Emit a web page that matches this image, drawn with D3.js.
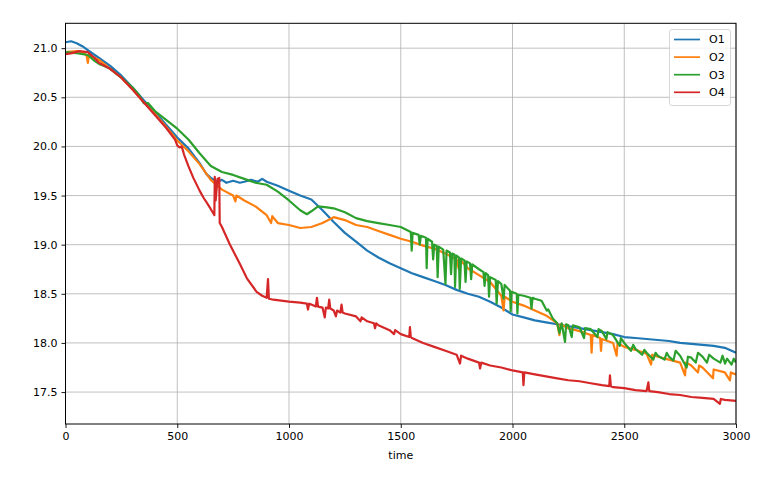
<!DOCTYPE html>
<html>
<head>
<meta charset="utf-8">
<script src="https://cdn.jsdelivr.net/npm/d3@7"></script>
<style>
  html, body { margin: 0; padding: 0; background: #fff; }
  svg { display: block; }
  text { font-family: "DejaVu Sans", sans-serif; fill: #000; }
</style>
</head>
<body>
<svg id="chart" width="774" height="487"></svg>
<script>
// ---------------- data ----------------
const seriesNames = ["O1", "O2", "O3", "O4"];
const seriesColors = ["#1f77b4", "#ff7f0e", "#2ca02c", "#d62728"];
const xTicks = [0, 500, 1000, 1500, 2000, 2500, 3000];
const yTicks = [17.5, 18.0, 18.5, 19.0, 19.5, 20.0, 20.5, 21.0];
const xLabel = "time";

const o1 = [[0,21.06],[25,21.07],[50,21.05],[75,21.02],[100,20.98],[150,20.9],[200,20.82],[250,20.72],[300,20.6],
  [350,20.47],[400,20.35],[450,20.22],[500,20.09],[550,19.98],[600,19.83],[630,19.72],[650,19.68],[680,19.64],
  [700,19.66],[720,19.63],[750,19.65],[780,19.63],[800,19.64],[830,19.66],[860,19.64],[880,19.67],[900,19.64],
  [950,19.6],[1000,19.55],[1050,19.5],[1100,19.46],[1150,19.35],[1200,19.23],[1250,19.12],[1300,19.03],[1350,18.94],
  [1400,18.87],[1450,18.81],[1500,18.76],[1550,18.71],[1600,18.67],[1650,18.63],[1700,18.59],[1750,18.54],[1800,18.5],
  [1850,18.47],[1900,18.42],[1950,18.36],[2000,18.29],[2050,18.26],[2100,18.23],[2150,18.21],[2200,18.19],[2250,18.17],
  [2300,18.15],[2350,18.13],[2400,18.11],[2450,18.09],[2500,18.06],[2550,18.05],[2600,18.04],[2650,18.03],[2700,18.02],
  [2750,18.0],[2800,17.99],[2850,17.98],[2900,17.97],[2950,17.95],[3000,17.9]];

const o2 = [[0,20.96],[50,20.97],[80,20.96],[95,20.92],[100,20.85],[105,20.93],[150,20.88],[200,20.79],[250,20.7],
  [300,20.58],[350,20.45],[400,20.33],[450,20.2],[500,20.06],[550,19.95],[600,19.82],[650,19.66],[700,19.56],
  [750,19.5],[760,19.44],[765,19.5],[800,19.45],[850,19.39],[900,19.3],[920,19.22],[925,19.29],[950,19.22],
  [1000,19.2],[1050,19.17],[1100,19.18],[1150,19.22],[1200,19.28],[1250,19.25],[1300,19.2],[1350,19.18],[1400,19.14],
  [1450,19.1],[1500,19.06],[1550,19.03],[1600,18.99],[1650,18.96],[1700,18.91],[1750,18.85],[1760,18.75],[1765,18.85],
  [1800,18.76],[1850,18.69],[1900,18.62],[1950,18.48],[1960,18.33],[1965,18.47],[2000,18.42],[2050,18.38],[2100,18.33],
  [2150,18.28],[2200,18.2],[2210,18.08],[2215,18.19],[2250,18.15],[2300,18.12],[2350,18.08],[2354,17.9],[2358,18.08],
  [2392,18.05],[2396,17.92],[2400,18.04],[2450,18.0],[2466,17.87],[2470,18.0],[2500,17.96],[2550,17.93],[2600,17.89],
  [2620,17.78],[2625,17.88],[2650,17.86],[2700,17.83],[2750,17.8],[2772,17.67],[2776,17.8],[2800,17.77],[2830,17.7],
  [2835,17.77],[2850,17.75],[2897,17.64],[2900,17.73],[2950,17.7],[2973,17.62],[2977,17.7],[3000,17.68]];

const o3 = [[0,20.96],[50,20.95],[100,20.93],[130,20.87],[150,20.84],[170,20.82],[200,20.79],[250,20.7],[300,20.6],
  [330,20.52],[350,20.44],[370,20.44],[400,20.36],[450,20.27],[500,20.18],[550,20.07],[600,19.93],[650,19.8],
  [700,19.74],[750,19.71],[800,19.67],[850,19.63],[900,19.61],[950,19.54],[1000,19.45],[1050,19.35],[1080,19.31],
  [1100,19.34],[1130,19.39],[1170,19.38],[1200,19.37],[1250,19.33],[1300,19.27],[1350,19.24],[1400,19.22],[1450,19.2],
  [1500,19.18],[1545,19.13],[1549,18.94],[1553,19.12],[1580,19.1],[1585,19.0],[1590,19.09],[1613,19.07],[1616,18.76],
  [1620,19.06],[1640,19.03],[1645,18.85],[1650,19.0],[1661,18.99],[1665,18.67],[1670,18.98],[1690,18.95],[1700,18.6],
  [1705,18.94],[1720,18.92],[1725,18.7],[1730,18.91],[1740,18.9],[1743,18.57],[1748,18.89],[1760,18.87],[1764,18.55],
  [1770,18.86],[1785,18.84],[1790,18.62],[1795,18.83],[1810,18.81],[1815,18.65],[1820,18.8],[1850,18.75],[1870,18.72],
  [1875,18.58],[1880,18.71],[1891,18.69],[1895,18.47],[1900,18.67],[1925,18.64],[1929,18.4],[1935,18.63],[1950,18.6],
  [1960,18.45],[1965,18.59],[1989,18.53],[1992,18.32],[1996,18.52],[2019,18.5],[2022,18.3],[2026,18.49],[2050,18.48],
  [2080,18.46],[2085,18.35],[2090,18.46],[2100,18.45],[2130,18.43],[2153,18.33],[2160,18.34],[2180,18.25],[2200,18.2],
  [2210,18.1],[2220,18.2],[2235,18.01],[2240,18.19],[2250,18.18],[2265,18.06],[2270,18.18],[2300,18.16],[2320,18.05],
  [2325,18.15],[2350,18.14],[2380,18.06],[2385,18.14],[2400,18.12],[2420,18.04],[2425,18.11],[2450,18.08],[2480,17.97],
  [2485,18.05],[2500,18.0],[2530,17.92],[2540,17.98],[2550,17.94],[2580,17.88],[2590,17.93],[2600,17.9],[2630,17.83],
  [2640,17.9],[2650,17.87],[2680,17.83],[2690,17.9],[2700,17.86],[2720,17.82],[2730,17.92],[2750,17.87],[2779,17.75],
  [2785,17.86],[2800,17.85],[2820,17.8],[2830,17.9],[2850,17.86],[2870,17.8],[2880,17.88],[2900,17.84],[2930,17.8],
  [2940,17.87],[2951,17.79],[2960,17.84],[2980,17.78],[2990,17.84],[3000,17.8]];

const o4 = [[0,20.94],[30,20.95],[60,20.97],[100,20.96],[130,20.9],[150,20.85],[200,20.79],[250,20.7],[300,20.58],
  [350,20.45],[400,20.32],[450,20.19],[490,20.07],[500,20.01],[510,19.99],[520,20.0],[530,19.92],[550,19.8],
  [572,19.68],[600,19.55],[617,19.48],[640,19.4],[661,19.32],[666,19.3],[668,19.69],[672,19.45],[680,19.67],
  [688,19.68],[690,19.22],[700,19.18],[736,19.0],[781,18.8],[811,18.66],[855,18.52],[880,18.48],[900,18.46],
  [906,18.65],[910,18.45],[930,18.44],[1000,18.42],[1050,18.41],[1080,18.4],[1085,18.34],[1090,18.4],[1100,18.39],
  [1120,18.37],[1125,18.46],[1130,18.37],[1150,18.36],[1160,18.26],[1165,18.36],[1175,18.35],[1180,18.44],
  [1185,18.35],[1200,18.33],[1210,18.27],[1215,18.33],[1230,18.31],[1235,18.39],[1240,18.31],[1250,18.3],[1300,18.27],
  [1320,18.22],[1325,18.26],[1350,18.22],[1380,18.2],[1385,18.15],[1390,18.2],[1400,18.18],[1450,18.13],[1470,18.09],
  [1475,18.13],[1500,18.09],[1538,18.06],[1541,18.16],[1545,18.06],[1550,18.05],[1600,18.0],
  [1650,17.96],[1700,17.92],[1750,17.88],[1765,17.79],[1770,17.87],[1800,17.84],[1850,17.8],[1855,17.74],[1860,17.8],
  [1900,17.77],[1950,17.75],[2000,17.72],[2046,17.7],[2049,17.57],[2053,17.7],[2100,17.68],[2150,17.66],[2200,17.64],
  [2250,17.62],[2300,17.61],[2350,17.59],[2400,17.57],[2433,17.56],[2436,17.67],[2440,17.56],[2450,17.55],[2500,17.54],
  [2550,17.52],[2600,17.51],[2608,17.6],[2612,17.51],[2650,17.5],[2700,17.48],[2750,17.47],[2800,17.45],[2850,17.44],
  [2900,17.43],[2928,17.38],[2932,17.43],[2950,17.42],[3000,17.41]];

const seriesData = [o1, o2, o3, o4];

// ---------------- layout ----------------
const W = 774, H = 487;
const plot = { left: 65.5, right: 736, top: 23.3, bottom: 424 };

const svg = d3.select("#chart");
const x = d3.scaleLinear().domain([0, 3000]).range([plot.left, plot.right]);
const y = d3.scaleLinear().domain([17.175, 21.253]).range([plot.bottom, plot.top]);

// grid
const grid = svg.append("g");
grid.selectAll("line.gx").data(xTicks).join("line")
  .attr("x1", d => x(d)).attr("x2", d => x(d))
  .attr("y1", plot.top).attr("y2", plot.bottom)
  .attr("stroke", "#b0b0b0").attr("stroke-width", 0.8);
grid.selectAll("line.gy").data(yTicks).join("line")
  .attr("y1", d => y(d)).attr("y2", d => y(d))
  .attr("x1", plot.left).attr("x2", plot.right)
  .attr("stroke", "#b0b0b0").attr("stroke-width", 0.8);

// lines
svg.append("defs").append("clipPath").attr("id", "clip")
  .append("rect").attr("x", plot.left).attr("y", plot.top)
  .attr("width", plot.right - plot.left).attr("height", plot.bottom - plot.top);

const line = d3.line().x(d => x(d[0])).y(d => y(d[1]));
const lines = svg.append("g").attr("clip-path", "url(#clip)");
seriesData.forEach((s, i) => {
  lines.append("path").attr("d", line(s))
    .attr("fill", "none").attr("stroke", seriesColors[i])
    .attr("stroke-width", 2.2).attr("stroke-linejoin", "round");
});

// axes
const xAxis = d3.axisBottom(x).tickValues(xTicks).tickFormat(d3.format("d")).tickSize(4).tickPadding(4);
const yAxis = d3.axisLeft(y).tickValues(yTicks).tickFormat(d3.format(".1f")).tickSize(4).tickPadding(4);
const gx = svg.append("g").attr("transform", `translate(0,${plot.bottom})`).call(xAxis);
const gy = svg.append("g").attr("transform", `translate(${plot.left},0)`).call(yAxis);
[gx, gy].forEach(g => {
  g.select(".domain").remove();
  g.selectAll("text").attr("font-size", 11).attr("font-family", "DejaVu Sans, sans-serif").attr("fill", "#000");
  g.selectAll("line").attr("stroke", "#000").attr("stroke-width", 0.9);
});

// frame
svg.append("rect").attr("x", plot.left).attr("y", plot.top)
  .attr("width", plot.right - plot.left).attr("height", plot.bottom - plot.top)
  .attr("fill", "none").attr("stroke", "#000").attr("stroke-width", 1);

// x label
svg.append("text").attr("x", (plot.left + plot.right) / 2).attr("y", 459)
  .attr("text-anchor", "middle").attr("font-size", 11).text(xLabel);

// legend
const lg = svg.append("g");
lg.append("rect").attr("x", 669.5).attr("y", 29.5).attr("width", 61).attr("height", 76)
  .attr("rx", 2.5).attr("fill", "#fff").attr("fill-opacity", 0.8)
  .attr("stroke", "#cccccc").attr("stroke-width", 0.8);
seriesNames.forEach((n, i) => {
  const cy = 39.5 + i * 17.6;
  lg.append("line").attr("x1", 674).attr("x2", 700).attr("y1", cy).attr("y2", cy)
    .attr("stroke", seriesColors[i]).attr("stroke-width", 1.7);
  lg.append("text").attr("x", 709).attr("y", cy).attr("dy", "0.35em")
    .attr("font-size", 11).text(n);
});
</script>
